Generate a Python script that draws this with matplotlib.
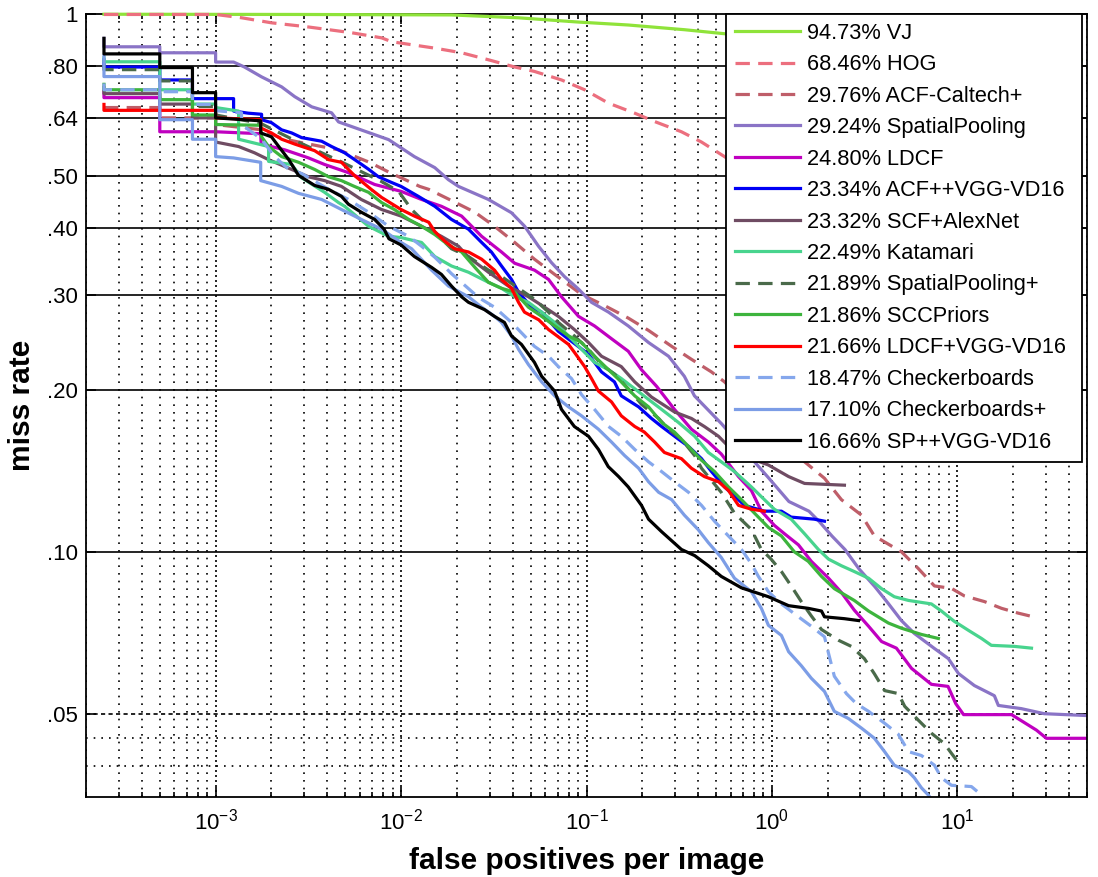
import matplotlib
matplotlib.use("Agg")
import matplotlib.pyplot as plt
from matplotlib.ticker import LogLocator, FixedLocator, NullFormatter, NullLocator

plt.rcParams['font.family'] = ['Liberation Sans', 'DejaVu Sans']
plt.rcParams['mathtext.fontset'] = 'custom'
plt.rcParams['mathtext.rm'] = 'Liberation Sans'
plt.rcParams['mathtext.it'] = 'Liberation Sans:italic'
plt.rcParams['mathtext.bf'] = 'Liberation Sans:bold'

# ---------------- data (false positives per image, miss rate) ----------------
vj_fppi = [2.5e-4, 2.91e-3, 0.0187, 0.0428, 0.0906, 0.168, 0.337, 0.555, 4.99, 46.6]
vj_mr = [0.999, 0.998, 0.996, 0.984, 0.966, 0.954, 0.935, 0.919, 0.875, 0.822]

hog_fppi = [2.5e-4, 1.0e-3, 1.38e-3, 2.0e-3, 3.09e-3, 5.4e-3, 7.85e-3, 8.9e-3, 0.0152, 0.0212,
            0.0296, 0.041, 0.0524, 0.0733, 0.0977, 0.131, 0.182, 0.233, 0.325, 0.417,
            0.555, 1.44, 4.99]
hog_mr = [0.998, 0.998, 0.984, 0.963, 0.947, 0.923, 0.903, 0.888, 0.864, 0.847,
          0.822, 0.797, 0.782, 0.754, 0.723, 0.683, 0.654, 0.631, 0.604, 0.578,
          0.543, 0.433, 0.321]

acfc_fppi = [2.5e-4, 5e-4, 5e-4, 1e-3, 1e-3, 1.77e-3, 2.27e-3, 2.8e-3, 4.6e-3, 6.75e-3,
             8.7e-3, 0.0100, 0.0126, 0.0141, 0.0187, 0.025, 0.0319, 0.041, 0.0524, 0.0673,
             0.094, 0.125, 0.168, 0.216, 0.288, 0.368, 0.472, 0.555, 1.50, 1.92,
             2.37, 3.04, 3.57, 4.99, 6.17, 7.52, 9.29, 10.9, 14.0, 17.3,
             21.3, 25.7]
acfc_mr = [0.670, 0.670, 0.641, 0.641, 0.623, 0.609, 0.587, 0.578, 0.559, 0.530,
           0.507, 0.496, 0.478, 0.472, 0.450, 0.428, 0.403, 0.376, 0.350, 0.328,
           0.301, 0.287, 0.272, 0.258, 0.241, 0.228, 0.216, 0.207, 0.147, 0.137,
           0.125, 0.117, 0.107, 0.100, 0.0930, 0.0864, 0.0855, 0.0828, 0.0808, 0.0785,
           0.0769, 0.0757]

sp_fppi = [2.5e-4, 2.5e-4, 5e-4, 5e-4, 1e-3, 1e-3, 1.25e-3, 1.43e-3, 1.77e-3, 2.27e-3,
           2.67e-3, 3.30e-3, 4.22e-3, 4.60e-3, 6.68e-3, 8.57e-3, 0.0118, 0.0152, 0.0180, 0.0204,
           0.0296, 0.0394, 0.0464, 0.0551, 0.0647, 0.0760, 0.0905, 0.1064, 0.1315, 0.168,
           0.216, 0.277, 0.337, 0.382, 0.535, 0.805, 0.963, 1.235, 1.583, 1.792,
           2.106, 2.475, 2.944, 3.592, 4.246, 4.99, 5.86, 7.52, 8.94, 10.13,
           12.35, 15.83, 16.63, 22.1, 29.4, 50.0]
sp_mr = [0.901, 0.869, 0.869, 0.847, 0.847, 0.814, 0.814, 0.797, 0.764, 0.732,
         0.702, 0.672, 0.655, 0.630, 0.602, 0.584, 0.543, 0.518, 0.492, 0.478,
         0.452, 0.427, 0.403, 0.370, 0.345, 0.325, 0.308, 0.291, 0.279, 0.263,
         0.245, 0.231, 0.212, 0.195, 0.173, 0.147, 0.137, 0.124, 0.119, 0.114,
         0.107, 0.101, 0.0930, 0.0861, 0.0801, 0.0745, 0.0705, 0.0661, 0.0633, 0.0594,
         0.0564, 0.0540, 0.0518, 0.0511, 0.0500, 0.0496]

ldcf_fppi = [2.5e-4, 2.5e-4, 5e-4, 5e-4, 1e-3, 1.75e-3, 1.76e-3, 2.36e-3, 3.17e-3, 3.87e-3,
             5.2e-3, 7.2e-3, 0.0100, 0.0129, 0.0165, 0.0212, 0.0272, 0.0348, 0.041, 0.0524,
             0.0624, 0.0733, 0.0906, 0.1105, 0.1364, 0.168, 0.198, 0.239, 0.298, 0.368,
             0.454, 0.533, 0.660, 0.775, 0.877, 1.03, 1.17, 1.39, 1.63, 2.02,
             2.37, 2.78, 3.32, 3.9, 4.69, 5.66, 7.24, 8.9, 9.8, 10.8,
             19.6, 26.7, 30.2, 50.0]
ldcf_mr = [0.717, 0.699, 0.699, 0.604, 0.604, 0.599, 0.573, 0.559, 0.540, 0.525,
           0.507, 0.482, 0.468, 0.452, 0.439, 0.421, 0.386, 0.361, 0.344, 0.334,
           0.321, 0.298, 0.274, 0.263, 0.249, 0.236, 0.218, 0.203, 0.184, 0.169,
           0.160, 0.152, 0.138, 0.130, 0.119, 0.112, 0.108, 0.103, 0.096, 0.0893,
           0.084, 0.0779, 0.0727, 0.0681, 0.0662, 0.0607, 0.0567, 0.0562, 0.0522, 0.0498,
           0.0498, 0.0466, 0.045, 0.045]

acfvgg_fppi = [2.5e-4, 2.5e-4, 5e-4, 5e-4, 7.5e-4, 7.5e-4, 1.25e-3, 1.25e-3, 1.5e-3, 1.77e-3,
               1.77e-3, 2.0e-3, 2.27e-3, 2.57e-3, 2.91e-3, 3.73e-3, 4.22e-3, 4.96e-3, 5.9e-3, 6.7e-3,
               7.56e-3, 8.9e-3, 0.0100, 0.0124, 0.0152, 0.0187, 0.0231, 0.0272, 0.0307, 0.0348,
               0.0394, 0.043, 0.0505, 0.0573, 0.0705, 0.1025, 0.1205, 0.1415, 0.154, 0.191,
               0.224, 0.254, 0.313, 0.355, 0.417, 0.472, 0.555, 0.628, 0.711, 0.911,
               1.125, 1.27, 1.69, 1.92]
acfvgg_mr = [0.822, 0.797, 0.797, 0.754, 0.754, 0.696, 0.696, 0.660, 0.654, 0.651,
             0.636, 0.628, 0.609, 0.601, 0.589, 0.580, 0.567, 0.552, 0.530, 0.514,
             0.498, 0.486, 0.478, 0.458, 0.439, 0.415, 0.398, 0.376, 0.361, 0.340,
             0.321, 0.304, 0.285, 0.279, 0.257, 0.233, 0.216, 0.207, 0.195, 0.186,
             0.177, 0.171, 0.162, 0.157, 0.149, 0.141, 0.132, 0.127, 0.122, 0.119,
             0.119, 0.116, 0.115, 0.114]

scf_fppi = [2.5e-4, 2.5e-4, 5e-4, 5e-4, 7.5e-4, 7.5e-4, 1e-3, 1e-3, 1.33e-3, 1.62e-3,
            1.93e-3, 2.57e-3, 3.17e-3, 3.87e-3, 4.77e-3, 6.1e-3, 7.85e-3, 0.0100, 0.0129, 0.0165,
            0.0204, 0.0231, 0.0296, 0.0379, 0.0486, 0.0594, 0.0705, 0.086, 0.1025, 0.1205,
            0.154, 0.182, 0.224, 0.298, 0.368, 0.432, 0.515, 0.583, 0.775, 0.957,
            1.23, 1.50, 2.46]
scf_mr = [0.730, 0.711, 0.711, 0.680, 0.680, 0.641, 0.641, 0.578, 0.567, 0.552,
          0.536, 0.514, 0.498, 0.490, 0.478, 0.452, 0.433, 0.421, 0.403, 0.386,
          0.370, 0.353, 0.331, 0.312, 0.298, 0.285, 0.274, 0.259, 0.245, 0.231,
          0.221, 0.207, 0.194, 0.182, 0.177, 0.171, 0.164, 0.157, 0.149, 0.145,
          0.138, 0.134, 0.133]

kat_fppi = [2.5e-4, 2.5e-4, 5e-4, 5e-4, 7.5e-4, 7.5e-4, 1e-3, 1e-3, 1.33e-3, 1.33e-3,
            1.93e-3, 1.93e-3, 2.57e-3, 2.91e-3, 3.87e-3, 4.6e-3, 4.96e-3, 6.68e-3, 8.57e-3, 0.0100,
            0.0129, 0.0152, 0.0187, 0.0231, 0.0296, 0.0348, 0.041, 0.0486, 0.0573, 0.0673,
            0.080, 0.094, 0.1105, 0.1315, 0.154, 0.182, 0.216, 0.254, 0.313, 0.383,
            0.454, 0.533, 0.628, 0.775, 0.911, 1.03, 1.27, 1.50, 1.78, 2.02,
            2.37, 2.78, 3.32, 3.9, 4.57, 5.45, 7.24, 8.2, 9.6, 11.5,
            13.5, 15.25, 20.3, 25.1]
kat_mr = [0.829, 0.815, 0.815, 0.723, 0.723, 0.680, 0.680, 0.670, 0.660, 0.585,
          0.567, 0.532, 0.525, 0.496, 0.466, 0.446, 0.439, 0.403, 0.386, 0.384,
          0.376, 0.354, 0.340, 0.331, 0.317, 0.309, 0.298, 0.291, 0.279, 0.267,
          0.252, 0.238, 0.225, 0.218, 0.210, 0.201, 0.192, 0.184, 0.174, 0.164,
          0.153, 0.147, 0.141, 0.132, 0.125, 0.120, 0.115, 0.108, 0.101, 0.0969,
          0.0942, 0.0919, 0.0893, 0.0854, 0.0825, 0.0812, 0.080, 0.0776, 0.0743, 0.0714,
          0.069, 0.067, 0.0667, 0.0662]

spp_fppi = [2.5e-4, 2.5e-4, 5e-4, 5e-4, 7.5e-4, 7.5e-4, 1e-3, 1e-3, 1.75e-3, 2.67e-3,
            4.6e-3, 7.85e-3, 9.7e-3, 0.0114, 0.0152, 0.0187, 0.0231, 0.0296, 0.0348, 0.043,
            0.0524, 0.0624, 0.0705, 0.086, 0.1025, 0.1205, 0.1415, 0.168, 0.198, 0.245,
            0.277, 0.325, 0.383, 0.417, 0.533, 0.628, 0.775, 0.877, 0.99, 1.125,
            1.27, 1.44, 1.63, 1.85, 2.28, 2.68, 3.15, 3.57, 4.05, 4.8,
            5.2, 6.17, 7.24, 8.5, 9.29, 10.1]
spp_mr = [0.804, 0.788, 0.788, 0.751, 0.751, 0.673, 0.673, 0.649, 0.626, 0.582,
          0.534, 0.488, 0.468, 0.433, 0.393, 0.366, 0.354, 0.334, 0.325, 0.309,
          0.295, 0.279, 0.267, 0.252, 0.238, 0.223, 0.214, 0.201, 0.188, 0.177,
          0.169, 0.162, 0.151, 0.143, 0.129, 0.118, 0.110, 0.101, 0.0969, 0.0919,
          0.0864, 0.0808, 0.076, 0.0717, 0.0685, 0.0667, 0.0633, 0.0593, 0.0552, 0.0545,
          0.0516, 0.0486, 0.046, 0.044, 0.0422, 0.0406]

scc_fppi = [2.5e-4, 2.5e-4, 5e-4, 5e-4, 7.5e-4, 7.5e-4, 1e-3, 1e-3, 1.75e-3, 1.77e-3,
            1.93e-3, 2.27e-3, 2.8e-3, 3.42e-3, 4.07e-3, 4.77e-3, 5.6e-3, 6.68e-3, 7.85e-3, 9.2e-3,
            0.0110, 0.0129, 0.0152, 0.0180, 0.0212, 0.025, 0.0296, 0.0348, 0.041, 0.0486,
            0.0573, 0.0673, 0.080, 0.094, 0.1105, 0.1315, 0.154, 0.182, 0.216, 0.254,
            0.298, 0.355, 0.417, 0.49, 0.583, 0.685, 0.805, 0.957, 1.125, 1.32,
            1.57, 1.85, 2.17, 2.78, 3.32, 4.25, 4.99, 6.4, 7.9]
scc_mr = [0.740, 0.723, 0.723, 0.693, 0.693, 0.649, 0.649, 0.623, 0.621, 0.591,
          0.567, 0.543, 0.530, 0.514, 0.498, 0.490, 0.478, 0.466, 0.446, 0.433,
          0.415, 0.403, 0.389, 0.372, 0.361, 0.338, 0.317, 0.309, 0.304, 0.285,
          0.274, 0.263, 0.252, 0.245, 0.231, 0.218, 0.207, 0.195, 0.186, 0.174,
          0.167, 0.157, 0.148, 0.141, 0.132, 0.125, 0.118, 0.111, 0.107, 0.100,
          0.096, 0.090, 0.0854, 0.0812, 0.0776, 0.0737, 0.0721, 0.0702, 0.069]

ldcfvgg_fppi = [2.5e-4, 2.5e-4, 1e-3, 1e-3, 1.75e-3, 1.75e-3, 2.0e-3, 2.27e-3, 2.67e-3, 3.42e-3,
                4.07e-3, 4.77e-3, 5.6e-3, 6.9e-3, 7.85e-3, 0.0100, 0.0118, 0.0141, 0.0152, 0.0172,
                0.0194, 0.0231, 0.0272, 0.0319, 0.0348, 0.0394, 0.0430, 0.0463, 0.0553, 0.0624,
                0.0705, 0.080, 0.086, 0.0977, 0.1064, 0.116, 0.1364, 0.154, 0.182, 0.205,
                0.233, 0.263, 0.325, 0.368, 0.432, 0.515, 0.583, 0.660, 0.775, 0.911]
ldcfvgg_mr = [0.679, 0.662, 0.662, 0.641, 0.636, 0.614, 0.601, 0.585, 0.573, 0.557,
              0.536, 0.530, 0.501, 0.472, 0.456, 0.433, 0.421, 0.410, 0.394, 0.378,
              0.366, 0.361, 0.350, 0.334, 0.321, 0.309, 0.291, 0.279, 0.270, 0.259,
              0.251, 0.243, 0.235, 0.221, 0.210, 0.199, 0.190, 0.179, 0.171, 0.167,
              0.160, 0.153, 0.149, 0.143, 0.138, 0.135, 0.130, 0.122, 0.120, 0.119]

cb_fppi = [2.5e-4, 2.5e-4, 5e-4, 5e-4, 7.5e-4, 7.5e-4, 1e-3, 1e-3, 1.38e-3, 1.38e-3,
           1.77e-3, 2.08e-3, 2.48e-3, 2.91e-3, 4.07e-3, 5.2e-3, 6.68e-3, 8.57e-3, 0.0110, 0.0129,
           0.0152, 0.0187, 0.0262, 0.0319, 0.0394, 0.0463, 0.0524, 0.0624, 0.0705, 0.083,
           0.094, 0.1105, 0.1315, 0.154, 0.182, 0.216, 0.254, 0.298, 0.355, 0.417,
           0.49, 0.583, 0.685, 0.775, 0.845, 0.957, 1.125, 1.39, 1.63, 1.92,
           2.02, 2.17, 2.52, 2.85, 3.32, 4.05, 4.8, 5.45, 6.4, 7.52,
           8.2, 9.29, 11.9, 13.5, 15.3]
cb_mr = [0.743, 0.723, 0.723, 0.717, 0.717, 0.679, 0.679, 0.661, 0.655, 0.623,
         0.585, 0.543, 0.514, 0.505, 0.472, 0.452, 0.428, 0.403, 0.386, 0.370,
         0.353, 0.329, 0.297, 0.285, 0.267, 0.252, 0.241, 0.231, 0.221, 0.210,
         0.196, 0.184, 0.171, 0.164, 0.155, 0.147, 0.141, 0.135, 0.129, 0.122,
         0.114, 0.107, 0.101, 0.095, 0.090, 0.0843, 0.080, 0.0757, 0.0727, 0.0695,
         0.0647, 0.0587, 0.0545, 0.0522, 0.0505, 0.048, 0.0458, 0.0425, 0.0418, 0.0401,
         0.038, 0.0368, 0.0366, 0.0353, 0.0333]

cbp_fppi = [2.5e-4, 2.5e-4, 5e-4, 5e-4, 7.5e-4, 7.5e-4, 1e-3, 1e-3, 1.25e-3, 1.75e-3,
            1.75e-3, 2.27e-3, 2.8e-3, 3.73e-3, 4.77e-3, 6.1e-3, 7.85e-3, 0.0100, 0.0114, 0.0146,
            0.0180, 0.0231, 0.0272, 0.0319, 0.0348, 0.0394, 0.043, 0.0486, 0.0573, 0.0673,
            0.080, 0.094, 0.116, 0.1364, 0.1605, 0.191, 0.216, 0.245, 0.288, 0.337,
            0.400, 0.454, 0.533, 0.628, 0.775, 0.877, 0.957, 1.125, 1.23, 1.44,
            1.63, 1.92, 2.17, 2.58, 3.04, 3.57, 4.05, 4.57, 5.45, 5.86,
            6.4, 6.97, 7.52]
cbp_mr = [0.836, 0.765, 0.765, 0.636, 0.636, 0.585, 0.585, 0.543, 0.540, 0.530,
          0.490, 0.478, 0.464, 0.452, 0.433, 0.415, 0.398, 0.376, 0.366, 0.334,
          0.312, 0.298, 0.285, 0.274, 0.267, 0.252, 0.238, 0.223, 0.207, 0.195,
          0.186, 0.179, 0.169, 0.160, 0.151, 0.143, 0.135, 0.129, 0.125, 0.117,
          0.110, 0.104, 0.0976, 0.0893, 0.0843, 0.0785, 0.073, 0.0699, 0.0652, 0.0614,
          0.0582, 0.055, 0.0505, 0.049, 0.047, 0.045, 0.0425, 0.0401, 0.039, 0.038,
          0.0364, 0.0353, 0.0341]

spvgg_fppi = [2.5e-4, 2.5e-4, 5e-4, 5e-4, 7.5e-4, 7.5e-4, 1e-3, 1e-3, 1.75e-3, 1.75e-3,
              2.0e-3, 2.19e-3, 2.48e-3, 2.8e-3, 3.42e-3, 4.07e-3, 4.77e-3, 5.2e-3, 6.1e-3, 7.2e-3,
              8.1e-3, 8.6e-3, 0.0100, 0.0118, 0.0146, 0.0165, 0.0187, 0.0212, 0.0231, 0.0282,
              0.0319, 0.0361, 0.0394, 0.0446, 0.0524, 0.0573, 0.0673, 0.0733, 0.086, 0.1025,
              0.116, 0.131, 0.149, 0.168, 0.198, 0.216, 0.254, 0.325, 0.383, 0.454,
              0.533, 0.685, 0.957, 1.23, 1.57, 1.85, 1.92, 2.46, 2.93]
spvgg_mr = [0.901, 0.843, 0.843, 0.795, 0.795, 0.714, 0.714, 0.641, 0.633, 0.601,
            0.591, 0.567, 0.536, 0.501, 0.480, 0.472, 0.458, 0.443, 0.428, 0.415,
            0.398, 0.382, 0.372, 0.354, 0.338, 0.328, 0.312, 0.298, 0.291, 0.282,
            0.274, 0.267, 0.252, 0.243, 0.225, 0.212, 0.199, 0.184, 0.171, 0.164,
            0.155, 0.144, 0.138, 0.132, 0.122, 0.115, 0.109, 0.101, 0.0984, 0.0942,
            0.090, 0.0857, 0.0825, 0.0794, 0.0785, 0.0776, 0.0757, 0.0751, 0.0745]

labels = ["94.73% VJ", "68.46% HOG", "29.76% ACF-Caltech+", "29.24% SpatialPooling",
          "24.80% LDCF", "23.34% ACF++VGG-VD16", "23.32% SCF+AlexNet", "22.49% Katamari",
          "21.89% SpatialPooling+", "21.86% SCCPriors", "21.66% LDCF+VGG-VD16",
          "18.47% Checkerboards", "17.10% Checkerboards+", "16.66% SP++VGG-VD16"]

y_ticks = [0.05, 0.10, 0.20, 0.30, 0.40, 0.50, 0.64, 0.80, 1.0]
y_tick_labels = [".05", ".10", ".20", ".30", ".40", ".50", ".64", ".80", "1"]

# ---------------- styling ----------------
series = [
    (vj_fppi, vj_mr, '#8FE33A', '-'),
    (hog_fppi, hog_mr, '#EC6F7E', '--'),
    (acfc_fppi, acfc_mr, '#BF5E69', '--'),
    (sp_fppi, sp_mr, '#8A74C6', '-'),
    (ldcf_fppi, ldcf_mr, '#C000C0', '-'),
    (acfvgg_fppi, acfvgg_mr, '#0000F5', '-'),
    (scf_fppi, scf_mr, '#6F4C63', '-'),
    (kat_fppi, kat_mr, '#48D48E', '-'),
    (spp_fppi, spp_mr, '#4A6A4A', '--'),
    (scc_fppi, scc_mr, '#3DB43D', '-'),
    (ldcfvgg_fppi, ldcfvgg_mr, '#FF0000', '-'),
    (cb_fppi, cb_mr, '#85A7EC', '--'),
    (cbp_fppi, cbp_mr, '#7C9DE6', '-'),
    (spvgg_fppi, spvgg_mr, '#000000', '-'),
]

fig = plt.figure(figsize=(10.98, 8.77), dpi=100)
ax = fig.add_axes([86 / 1098, 1 - 797 / 877, 1001 / 1098, 783 / 877])
ax.set_xscale('log')
ax.set_yscale('log')

LW = 2.3
for (fx, fy, col, st), lab in zip(series, labels):
    kw = dict(color=col, lw=LW, label=lab, zorder=2)
    if st == '--':
        kw['dashes'] = (4.5, 2.6)
    if lab.endswith('VJ') or lab.endswith('HOG'):
        kw['clip_on'] = False
        kw['zorder'] = 3
    ax.plot(fx, fy, **kw)

ax.set_xlim(2e-4, 50)
ax.set_ylim(0.035, 1.0)

ax.xaxis.set_major_locator(LogLocator(base=10, numticks=20))
ax.xaxis.set_minor_locator(LogLocator(base=10, subs=[2, 3, 4, 5, 6, 7, 8, 9], numticks=100))
ax.xaxis.set_minor_formatter(NullFormatter())
ax.yaxis.set_major_locator(FixedLocator(y_ticks))
ax.yaxis.set_minor_locator(NullLocator())
ax.set_yticklabels(y_tick_labels)

ax.set_axisbelow(True)
ax.grid(True, axis='x', which='minor', color='k', ls=(0, (1, 3.6)), lw=1.2)
ax.grid(True, axis='x', which='major', color='k', ls=(0, (1.2, 1.8)), lw=1.2)
for v in y_ticks[1:-1]:
    ax.axhline(v, color='k', lw=1.2, zorder=0.6)
ax.axhline(y_ticks[0], color='k', lw=1.2, ls=(0, (2.5, 2.0)), zorder=0.6)
for v in (0.045, 0.04):
    ax.axhline(v, color='k', lw=1.2, ls=(0, (1, 3.6)), zorder=0.6)

ax.tick_params(which='both', direction='in', top=True, right=True, width=1.2,
               labelsize=16, colors='k')
ax.tick_params(axis='y', pad=6)
ax.tick_params(axis='x', pad=8)
ax.tick_params(which='major', length=7)
ax.tick_params(which='minor', length=3.6)
for s in ax.spines.values():
    s.set_linewidth(1.3)
    s.set_color('k')

ax.set_xlabel('false positives per image', fontsize=21.5, fontweight='bold', labelpad=9)
ax.set_ylabel('miss rate', fontsize=21.5, fontweight='bold', labelpad=8)

leg = ax.legend(loc='upper left', bbox_to_anchor=(0.6394, 0.0, 0.3556, 1.0), mode='expand',
                borderaxespad=0, fontsize=15.7, handlelength=3.0, handletextpad=0.3,
                labelspacing=0.48, borderpad=0.4, frameon=True, fancybox=False,
                framealpha=1, edgecolor='k')
leg.get_frame().set_linewidth(1.3)
leg.set_zorder(5)

fig.savefig('out.png', dpi=100)
